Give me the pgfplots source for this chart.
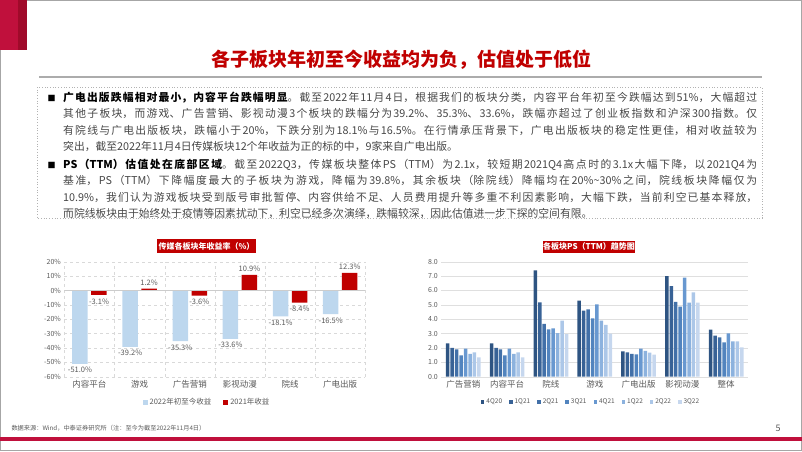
\documentclass[border=0pt]{standalone}
\usepackage{fontspec}
\setmainfont{Noto Sans CJK SC}
\usepackage{pgfplots}
\pgfplotsset{compat=1.18}
\definecolor{slidered}{RGB}{192,16,60}
\definecolor{slidereddark}{RGB}{160,10,42}
\definecolor{titlered}{RGB}{192,0,0}
\definecolor{txtgray}{RGB}{89,89,89}
\definecolor{bodygray}{RGB}{70,70,70}
\definecolor{lblue}{RGB}{189,215,238}
\definecolor{dred}{RGB}{192,0,0}
\definecolor{ca}{RGB}{46,84,130}
\definecolor{cb}{RGB}{56,98,150}
\definecolor{cc}{RGB}{66,112,168}
\definecolor{cd}{RGB}{82,132,190}
\definecolor{ce}{RGB}{104,152,208}
\definecolor{cf}{RGB}{140,178,222}
\definecolor{cg}{RGB}{172,199,232}
\definecolor{ch}{RGB}{198,215,238}
\XeTeXlinebreaklocale "zh"
\XeTeXlinebreakskip=0pt plus 6pt
\newcommand{\fs}[1]{\fontsize{#1}{#1}\selectfont}
\begin{document}
\begin{tikzpicture}[x=1pt,y=1pt]
\useasboundingbox (0,0) rectangle (802,451);
% frame
\draw[gray!70,line width=1.2pt] (0.6,0.6) rectangle (801.4,450.4);
\fill[slidered] (0,401) rectangle (18,451);
\fill[slidereddark] (18,401) rectangle (27,451);
% title
\node[text=titlered,font=\fs{19}\bfseries] at (401,391) {各子板块年初至今收益均为负，估值处于低位};
\draw[gray!65,line width=2pt] (39,374) -- (762,374);
% text box
\draw[gray!60,dotted,line width=0.7pt] (37,364) rectangle (762,233);
\node[anchor=base west,font=\fs{8}] at (44,350) {■};
\node[anchor=base west,inner sep=0pt,text=bodygray,font=\fontsize{10.8}{16.5}\selectfont] at (63,350) {\parbox[t]{694pt}{\leavevmode
{\color{black}\bfseries 广电出版跌幅相对最小，内容平台跌幅明显}。截至2022年11月4日，根据我们的板块分类，内容平台年初至今跌幅达到51\%，大幅超过\linebreak
其他子板块，而游戏、广告营销、影视动漫3个板块的跌幅分为39.2\%、35.3\%、33.6\%，跌幅亦超过了创业板指数和沪深300指数。仅\linebreak
有院线与广电出版板块，跌幅小于20\%，下跌分别为18.1\%与16.5\%。在行情承压背景下，广电出版板块的稳定性更佳，相对收益较为\linebreak
突出，截至2022年11月4日传媒板块12个年收益为正的标的中，9家来自广电出版。}};
\node[anchor=base west,font=\fs{8}] at (44,283) {■};
\node[anchor=base west,inner sep=0pt,text=bodygray,font=\fontsize{10.8}{16.5}\selectfont] at (63,283) {\parbox[t]{694pt}{\leavevmode
{\color{black}\bfseries PS（TTM）估值处在底部区域}。截至2022Q3，传媒板块整体PS（TTM）为2.1x，较短期2021Q4高点时的3.1x大幅下降，以2021Q4为\linebreak
基准，PS（TTM）下降幅度最大的子板块为游戏，降幅为39.8\%，其余板块（除院线）降幅均在20\%\textasciitilde30\%之间，院线板块降幅仅为\linebreak
10.9\%，我们认为游戏板块受到版号审批暂停、内容供给不足、人员费用提升等多重不利因素影响，大幅下跌，当前利空已基本释放，\linebreak
而院线板块由于始终处于疫情等因素扰动下，利空已经多次演绎，跌幅较深，因此估值进一步下探的空间有限。}};
% chart titles
\node[fill=titlered,text=white,font=\fs{8}\bfseries,minimum width=99pt,minimum height=14pt,inner sep=0pt] at (206.5,205) {传媒各板块年收益率（\%）};
\node[fill=titlered,text=white,font=\fs{8}\bfseries,minimum width=92pt,minimum height=12pt,inner sep=0pt] at (589,204.5) {各板块PS（TTM）趋势图};
% left chart
\begin{axis}[at={(64.4pt,74.3pt)},anchor=south west,scale only axis,width=300.9pt,height=115pt,
  ymin=-60,ymax=20,xmin=-0.5,xmax=5.5,
  ytick={-60,-50,...,20},
  yticklabel={\pgfmathprintnumber[fixed,precision=0]{\tick}\%},
  xtick={0,...,5},
  xticklabels={内容平台,游戏,广告营销,影视动漫,院线,广电出版},
  extra x ticks={-0.5,0.5,1.5,2.5,3.5,4.5,5.5},
  extra x tick labels={},
  extra x tick style={grid=major,major grid style={gray!30,dashed}},
  ymajorgrids,major grid style={gray!30,dashed},
  axis line style={draw=none},
  major tick length=0pt,
  tick label style={text=txtgray},
  yticklabel style={font=\fs{7}},
  xticklabel style={font=\fs{8.5}},
  /pgf/number format/assume math mode=true,
  ybar,bar width=15.5pt,
  nodes near coords={\pgfmathprintnumber[fixed,fixed zerofill,precision=1]{\pgfplotspointmeta}\%},
  every node near coord/.append style={font=\fs{7.5},text=txtgray},
  legend style={at={(0.474,-0.22)},anchor=center,draw=none,fill=none,font=\fs{7.5},text=txtgray,
    legend columns=2,/tikz/every even column/.append style={column sep=10pt}},
  legend image code/.code={\fill[#1] (0pt,-2.5pt) rectangle (5pt,2.5pt);},
]
\addplot[fill=lblue,draw=none,bar shift=-9.5pt] coordinates {(0,-51.0) (1,-39.2) (2,-35.3) (3,-33.6) (4,-18.1) (5,-16.5)};
\addplot[fill=dred,draw=none,bar shift=9.5pt] coordinates {(0,-3.1) (1,1.2) (2,-3.6) (3,10.9) (4,-8.4) (5,12.3)};
\legend{2022年初至今收益,2021年收益}
\draw[gray!40] (axis cs:-0.5,0) -- (axis cs:5.5,0);
\end{axis}
% right chart
\begin{axis}[at={(441.4pt,74.3pt)},anchor=south west,scale only axis,width=306.7pt,height=115pt,
  ymin=0,ymax=8,xmin=-0.5,xmax=6.5,
  ytick={0,1,...,8},
  yticklabel style={font=\fs{7},/pgf/number format/.cd,fixed,fixed zerofill,precision=1},
  xtick={0,...,6},
  xticklabels={广告营销,内容平台,院线,游戏,广电出版,影视动漫,整体},
  xticklabel style={font=\fs{8.5}},
  ymajorgrids,major grid style={gray!25},
  axis line style={draw=none},
  major tick length=0pt,
  tick label style={text=txtgray},
  /pgf/number format/assume math mode=true,
  ybar,bar width=3.5pt,
  legend style={at={(0.488,-0.22)},anchor=center,draw=none,fill=none,font=\fs{6.5},text=txtgray,
    legend columns=8,/tikz/every even column/.append style={column sep=5pt}},
  legend image code/.code={\fill[#1] (0pt,-2pt) rectangle (3.5pt,2pt);},
]
\addplot[fill=ca,draw=none,bar shift=-15.6pt] coordinates {(0,2.32) (1,2.32) (2,7.40) (3,5.29) (4,1.76) (5,7.00) (6,3.27)};
\addplot[fill=cb,draw=none,bar shift=-11.1pt] coordinates {(0,2.00) (1,2.00) (2,5.17) (3,4.59) (4,1.69) (5,6.31) (6,2.85)};
\addplot[fill=cc,draw=none,bar shift=-6.7pt] coordinates {(0,1.90) (1,1.90) (2,3.67) (3,4.69) (4,1.58) (5,5.20) (6,2.74)};
\addplot[fill=cd,draw=none,bar shift=-2.2pt] coordinates {(0,1.48) (1,1.48) (2,3.29) (3,4.06) (4,1.55) (5,4.87) (6,2.39)};
\addplot[fill=ce,draw=none,bar shift=2.2pt] coordinates {(0,1.95) (1,1.95) (2,3.36) (3,5.03) (4,1.95) (5,6.89) (6,3.02)};
\addplot[fill=cf,draw=none,bar shift=6.7pt] coordinates {(0,1.58) (1,1.58) (2,3.04) (3,3.90) (4,1.79) (5,5.15) (6,2.46)};
\addplot[fill=cg,draw=none,bar shift=11.1pt] coordinates {(0,1.69) (1,1.69) (2,3.90) (3,3.60) (4,1.67) (5,5.87) (6,2.46)};
\addplot[fill=ch,draw=none,bar shift=15.6pt] coordinates {(0,1.35) (1,1.35) (2,2.97) (3,2.99) (4,1.53) (5,5.15) (6,2.04)};
\legend{4Q20,1Q21,2Q21,3Q21,4Q21,1Q22,2Q22,3Q22}
\draw[gray!40] (axis cs:-0.5,0) -- (axis cs:6.5,0);
\end{axis}
% footer
\node[anchor=west,text=txtgray,font=\fs{6.2}] at (8,23) {数据来源：Wind，中泰证券研究所（注：至今为截至2022年11月4日）};
\node[text=txtgray,font=\fs{9}] at (778,23) {5};
\fill[slidered] (0,10.3) rectangle (802,14.5);
\end{tikzpicture}
\end{document}
